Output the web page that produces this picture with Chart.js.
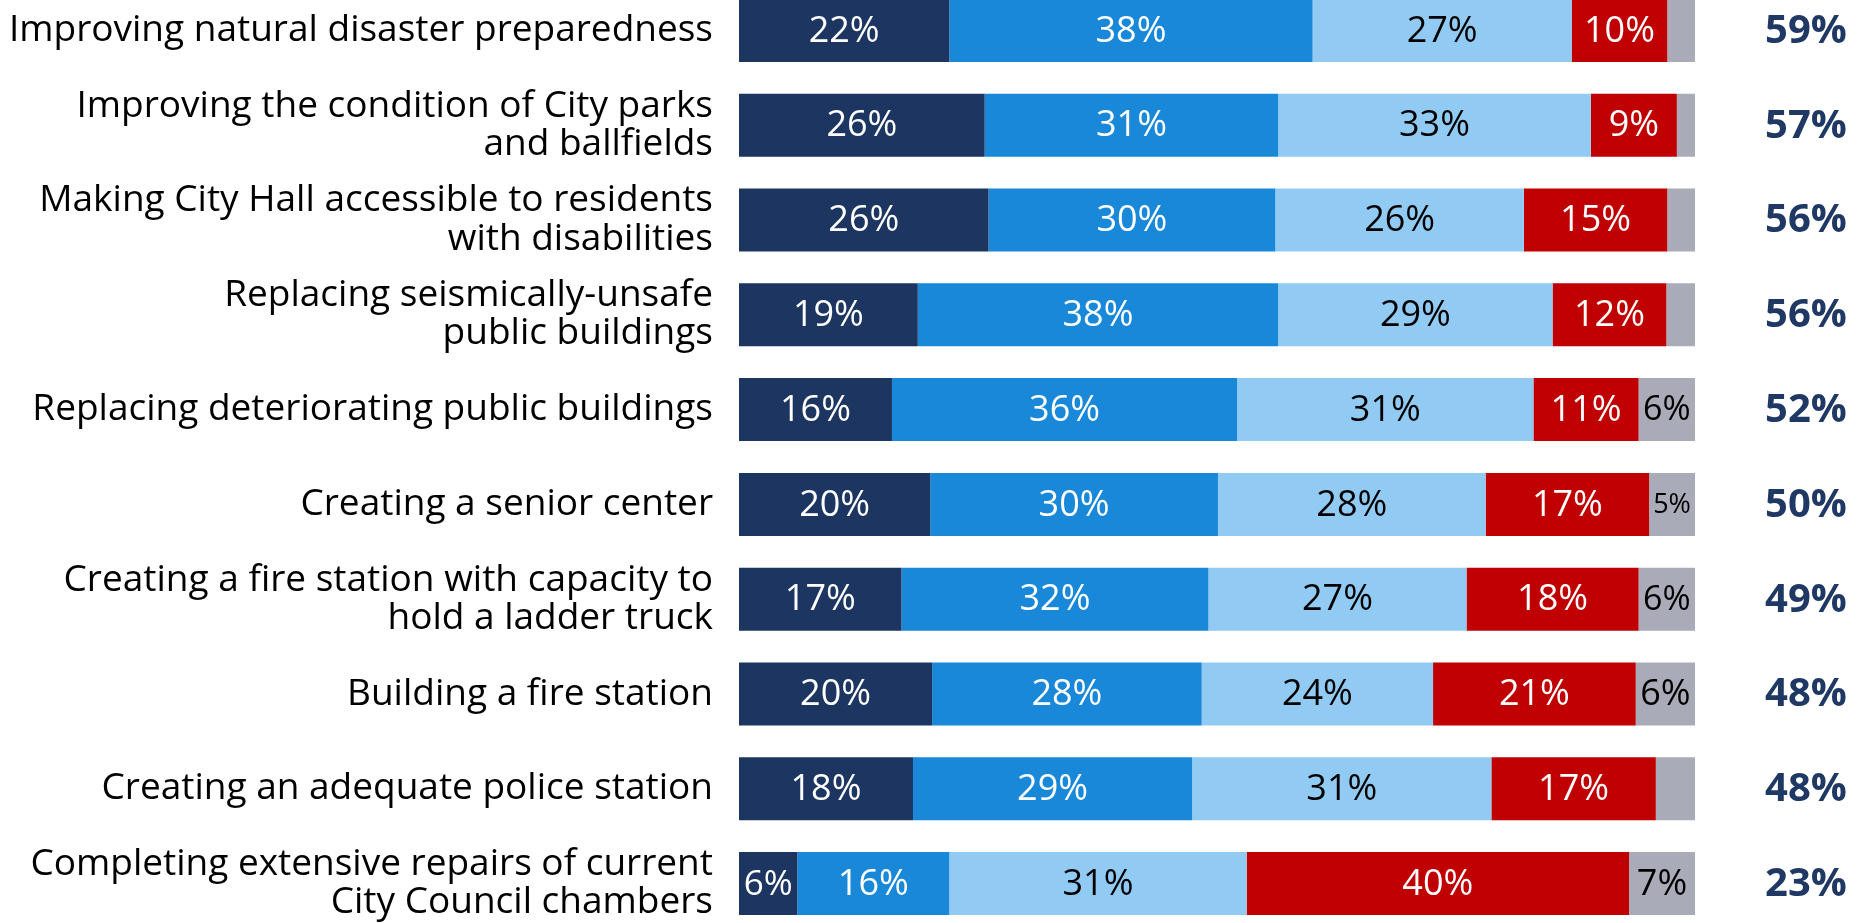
<!DOCTYPE html>
<html>
<head>
<meta charset="utf-8">
<script src="https://cdn.jsdelivr.net/npm/chart.js@4"></script>
<style>
    html, body { margin: 0; padding: 0; background: #fff; overflow: hidden; }
    #wrap { position: absolute; left: 0; top: -17px; width: 1872px; height: 948px; }
</style>
</head>
<body>
<div id="wrap"><canvas id="prioChart"></canvas></div>
<script>
// 各項目名稱
const categories = [
    'Improving natural disaster preparedness',
    ['Improving the condition of City parks', 'and ballfields'],
    ['Making City Hall accessible to residents', 'with disabilities'],
    ['Replacing seismically-unsafe', 'public buildings'],
    'Replacing deteriorating public buildings',
    'Creating a senior center',
    ['Creating a fire station with capacity to', 'hold a ladder truck'],
    'Building a fire station',
    'Creating an adequate police station',
    ['Completing extensive repairs of current', 'City Council chambers']
];

// 各層百分比
const extremelyImp = [22, 25.7, 26.1, 18.7, 16, 20, 17, 20.2, 18.2, 6.1];
const veryImp      = [38, 30.7, 30, 37.7, 36.1, 30.1, 32.1, 28.2, 29.2, 15.9];
const somewhatImp  = [27.1, 32.7, 26, 28.7, 31, 28, 27, 24.2, 31.3, 31.1];
const notImp       = [10, 9, 15, 11.9, 11, 17.1, 18, 21.2, 17.2, 40];
const dontKnow     = [2.9, 1.9, 2.9, 3, 5.9, 4.8, 5.9, 6.2, 4.1, 6.9];

// 右側合計 (極重要 + 很重要)
const totals = [59, 57, 56, 56, 52, 50, 49, 48, 48, 23];

const seriesNames  = ['Extremely important', 'Very important', 'Somewhat important', 'Not important', "Don't know"];
const seriesColors = ['#1C3661', '#1A88D8', '#91CBF3', '#C00000', '#A9ABB8'];
const labelColors  = ['#ffffff', '#ffffff', '#000000', '#ffffff', '#000000'];

const FONT = "'Open Sans', 'Noto Sans', sans-serif";

// 在長條內畫百分比 + 右側合計
const barLabels = {
    id: 'barLabels',
    afterDatasetsDraw(chart) {
        const ctx = chart.ctx;
        ctx.save();
        ctx.textAlign = 'center';
        ctx.textBaseline = 'middle';
        chart.data.datasets.forEach((ds, i) => {
            const meta = chart.getDatasetMeta(i);
            meta.data.forEach((bar, j) => {
                const pct = Math.round(ds.data[j]);
                if (pct < 5) return;
                const txt = pct + '%';
                const w = Math.abs(bar.x - bar.base);
                let size = 36;
                ctx.font = `${size}px ${FONT}`;
                while (ctx.measureText(txt).width > w - 8 && size > 12) {
                    size--;
                    ctx.font = `${size}px ${FONT}`;
                }
                ctx.fillStyle = labelColors[i];
                ctx.fillText(txt, (bar.x + bar.base) / 2, bar.y + 1);
            });
        });

        const yScale = chart.scales.y;
        ctx.font = `bold 40px ${FONT}`;
        ctx.fillStyle = '#1F3864';
        totals.forEach((t, j) => {
            ctx.fillText(t + '%', chart.chartArea.right + 111, yScale.getPixelForValue(j) + 1);
        });
        ctx.restore();
    }
};

const datasets = [extremelyImp, veryImp, somewhatImp, notImp, dontKnow].map((arr, i) => ({
    label: seriesNames[i],
    data: arr,
    backgroundColor: seriesColors[i],
    borderWidth: 0,
    barPercentage: 0.665,
    categoryPercentage: 1
}));

const ctx = document.getElementById('prioChart').getContext('2d');
new Chart(ctx, {
    type: 'bar',
    data: { labels: categories, datasets: datasets },
    options: {
        indexAxis: 'y',
        responsive: true,
        maintainAspectRatio: false,
        animation: false,
        layout: { padding: { left: 0, right: 177, top: 0, bottom: 0 } },
        plugins: {
            legend: { display: false },
            tooltip: { enabled: false }
        },
        scales: {
            x: { stacked: true, min: 0, max: 100, display: false },
            y: {
                stacked: true,
                grid: { display: false, drawTicks: false },
                border: { display: false },
                ticks: {
                    color: '#000',
                    padding: 26,
                    font: { family: FONT, size: 37, lineHeight: 1.03 }
                },
                afterFit(scale) {
                    scale.width = 739;
                    // 不讓標籤高度擠壓圖區
                    scale.paddingTop = 0;
                    scale.paddingBottom = 0;
                }
            }
        }
    },
    plugins: [barLabels]
});
</script>
</body>
</html>
